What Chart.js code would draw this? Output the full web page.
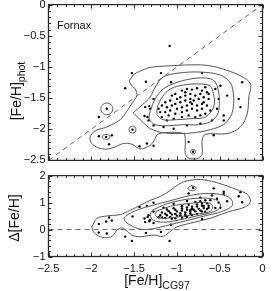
<!DOCTYPE html>
<html><head><meta charset="utf-8">
<script src="https://cdn.jsdelivr.net/npm/chart.js@4.4.1/dist/chart.umd.min.js"></script>
<style>
body{margin:0;background:#fff;}
#wrap{position:relative;width:273px;height:291px;overflow:hidden;font-family:"Liberation Sans",Arial,sans-serif;color:#111;}
canvas{position:absolute;left:0;}
.t{position:absolute;white-space:nowrap;line-height:1;}
.rot{transform:translate(-50%,-50%) rotate(-90deg);}
.sub{font-size:10.5px;position:relative;top:4px;}
</style></head><body>
<div id="wrap">
<canvas id="cTop" width="273" height="175" style="top:-5px;width:273px;height:175px"></canvas>
<canvas id="cBot" width="273" height="125" style="top:166px;width:273px;height:125px"></canvas>
<div class="t" style="left:57px;top:20px;font-size:11px">Fornax</div>
<div class="t rot" style="left:16px;top:91px;font-size:14px">[Fe/H]<span class="sub">phot</span></div>
<div class="t rot" style="left:14px;top:218px;font-size:14px">Δ[Fe/H]</div>
<div class="t" style="left:157px;top:280px;transform:translate(-50%,-50%);font-size:14px">[Fe/H]<span class="sub">CG97</span></div>
</div>
<script>
// ---------- data ----------
const feh_cg97 = [-1.019,-0.941,-0.882,-0.824,-0.765,-0.707,-0.668,-0.648,-0.726,-0.785,-0.843,-0.902,-0.960,-0.999,-1.078,-1.136,-1.175,-1.117,-1.058,-1.019,-0.960,-0.902,-0.843,-0.804,-0.746,-0.687,-0.629,-0.707,-0.765,-0.824,-0.882,-0.941,-0.999,-1.078,-1.136,-1.195,-1.214,-1.097,-1.019,-0.941,-0.882,-0.824,-0.765,-0.707,-0.648,-0.609,-0.668,-0.726,-0.785,-0.863,-0.941,-1.038,-1.117,-1.175,-0.843,-0.902,-0.687,-0.629,-1.058,
 -1.273,-1.312,-1.331,-1.273,-1.156,-1.038,-0.882,-0.726,-0.590,-0.531,-0.512,-0.551,-0.492,-0.453,
 -1.526,-1.362,-1.604,-1.186,-1.069,-0.706,-0.238,-0.278,-0.258,-0.413,-1.085,-1.370,-1.323,-1.378,-1.343,-1.819,-1.912,-1.519,-1.912,-1.760,-1.827,-1.792,-1.437,-1.350,-1.273,-0.863,-0.811,-0.570,-0.453];
const feh_phot = [-1.433,-1.380,-1.354,-1.364,-1.343,-1.380,-1.327,-1.407,-1.433,-1.460,-1.433,-1.460,-1.486,-1.513,-1.540,-1.566,-1.619,-1.646,-1.619,-1.593,-1.566,-1.540,-1.513,-1.540,-1.513,-1.486,-1.513,-1.593,-1.619,-1.593,-1.619,-1.646,-1.672,-1.699,-1.725,-1.725,-1.672,-1.778,-1.752,-1.725,-1.699,-1.672,-1.699,-1.672,-1.619,-1.699,-1.752,-1.778,-1.805,-1.778,-1.805,-1.831,-1.858,-1.805,-1.566,-1.407,-1.566,-1.433,-1.460,
 -1.513,-1.672,-1.858,-1.938,-1.964,-1.991,-1.938,-1.911,-1.858,-1.672,-1.513,-1.354,-1.301,-1.858,
 -1.099,-1.237,-1.342,-1.099,-1.247,-1.099,-1.247,-1.513,-1.645,-1.460,-0.664,-1.645,-1.629,-1.788,-1.804,-1.672,-1.804,-2.006,-2.113,-2.097,-2.123,-2.240,-2.272,-2.229,-2.266,-2.202,-2.361,-2.097,-1.779];
const delta_feh = [0.414,0.439,0.472,0.540,0.578,0.673,0.659,0.759,0.707,0.675,0.590,0.558,0.526,0.514,0.462,0.430,0.444,0.529,0.561,0.574,0.606,0.638,0.670,0.736,0.767,0.799,0.884,0.886,0.854,0.769,0.737,0.705,0.673,0.621,0.589,0.530,0.458,0.681,0.733,0.784,0.817,0.848,0.934,0.965,0.971,1.090,1.084,1.052,1.020,0.915,0.864,0.793,0.741,0.630,0.723,0.505,0.879,0.804,0.402,
 0.240,0.360,0.527,0.665,0.808,0.953,1.056,1.185,1.268,1.141,1.001,0.803,0.809,1.405,
 -0.427,-0.125,-0.262,-0.087,0.178,0.393,1.009,1.235,1.387,1.047,-0.421,0.275,0.306,0.410,0.461,-0.147,-0.108,0.487,0.201,0.337,0.296,0.448,0.835,0.879,0.993,1.339,1.550,1.527,1.326];

// density contours, top panel ([Fe/H]CG97, [Fe/H]phot)
const contourTopOuter = [[-1.557,-1.226],[-1.511,-1.131],[-1.429,-1.067],[-1.311,-1.008],[-1.077,-0.982],[-0.726,-0.967],[-0.527,-1.008],[-0.258,-1.142],[-0.141,-1.274],[-0.160,-1.486],[-0.179,-1.752],[-0.258,-1.963],[-0.413,-2.070],[-0.667,-2.081],[-0.706,-2.177],[-0.706,-2.400],[-0.765,-2.470],[-0.863,-2.462],[-0.902,-2.389],[-0.902,-2.177],[-0.922,-2.070],[-1.136,-2.054],[-1.229,-2.086],[-1.265,-2.182],[-1.311,-2.256],[-1.390,-2.309],[-1.448,-2.309],[-1.526,-2.240],[-1.624,-2.229],[-1.721,-2.282],[-1.819,-2.320],[-1.917,-2.298],[-1.994,-2.229],[-2.014,-2.123],[-1.956,-2.027],[-1.819,-1.963],[-1.663,-1.847],[-1.581,-1.704],[-1.522,-1.576],[-1.467,-1.460],[-1.487,-1.354],[-1.534,-1.290],[-1.557,-1.226]];
const contourTop3 = [[-1.511,-1.736],[-1.405,-1.608],[-1.311,-1.481],[-1.253,-1.322],[-1.159,-1.162],[-0.984,-1.099],[-0.726,-1.083],[-0.492,-1.131],[-0.375,-1.258],[-0.340,-1.433],[-0.340,-1.640],[-0.375,-1.799],[-0.457,-1.927],[-0.609,-2.006],[-0.785,-2.054],[-0.984,-2.070],[-1.171,-2.054],[-1.311,-1.990],[-1.393,-1.895],[-1.452,-1.815],[-1.511,-1.736]];
const contourTop2 = [[-1.311,-1.704],[-1.253,-1.513],[-1.159,-1.354],[-1.019,-1.258],[-0.843,-1.194],[-0.667,-1.178],[-0.562,-1.226],[-0.515,-1.385],[-0.504,-1.592],[-0.527,-1.768],[-0.609,-1.879],[-0.749,-1.927],[-0.925,-1.927],[-1.101,-1.943],[-1.253,-1.927],[-1.323,-1.831],[-1.311,-1.704]];
const contourTop1 = [[-1.229,-1.640],[-1.171,-1.481],[-1.077,-1.354],[-0.925,-1.290],[-0.749,-1.274],[-0.609,-1.306],[-0.574,-1.433],[-0.562,-1.592],[-0.609,-1.736],[-0.691,-1.815],[-0.843,-1.831],[-1.007,-1.847],[-1.159,-1.847],[-1.229,-1.768],[-1.229,-1.640]];
const contourTopIsleA = [[-1.819,-1.576],[-1.770,-1.604],[-1.749,-1.672],[-1.770,-1.740],[-1.819,-1.768],[-1.868,-1.740],[-1.889,-1.672],[-1.868,-1.604],[-1.819,-1.576]];
const contourTopIsleB = [[-1.519,-1.950],[-1.490,-1.966],[-1.478,-2.006],[-1.490,-2.046],[-1.519,-2.062],[-1.548,-2.046],[-1.560,-2.006],[-1.548,-1.966],[-1.519,-1.950]];
const contourTopIsleC = [[-1.827,-2.083],[-1.794,-2.095],[-1.780,-2.123],[-1.794,-2.151],[-1.827,-2.163],[-1.860,-2.151],[-1.874,-2.123],[-1.860,-2.095],[-1.827,-2.083]];
const contourTopIsleD = [[-0.811,-2.321],[-0.790,-2.333],[-0.782,-2.361],[-0.790,-2.389],[-0.811,-2.401],[-0.832,-2.389],[-0.840,-2.361],[-0.832,-2.333],[-0.811,-2.321]];

// density contours, bottom panel ([Fe/H]CG97, Δ[Fe/H])
const contourBotOuter = [[-1.994,0.099],[-1.936,0.408],[-1.819,0.504],[-1.663,0.555],[-1.546,0.713],[-1.429,0.897],[-1.311,1.081],[-1.194,1.228],[-1.077,1.449],[-0.984,1.669],[-0.890,1.798],[-0.726,1.853],[-0.539,1.743],[-0.304,1.485],[-0.176,1.301],[-0.141,1.044],[-0.199,0.842],[-0.398,0.658],[-0.609,0.419],[-0.843,0.235],[-1.007,0.088],[-1.101,-0.132],[-1.171,-0.261],[-1.253,-0.206],[-1.335,-0.224],[-1.429,-0.268],[-1.526,-0.206],[-1.581,-0.059],[-1.643,0.063],[-1.701,-0.022],[-1.741,-0.206],[-1.819,-0.305],[-1.917,-0.232],[-1.975,-0.085],[-1.994,0.099]];
const contourBot2 = [[-1.569,0.566],[-1.487,0.695],[-1.370,0.824],[-1.194,0.971],[-1.019,1.118],[-0.843,1.265],[-0.667,1.338],[-0.492,1.301],[-0.375,1.154],[-0.351,0.897],[-0.468,0.676],[-0.667,0.511],[-0.867,0.346],[-1.054,0.199],[-1.194,0.088],[-1.311,0.015],[-1.429,0.015],[-1.522,0.125],[-1.593,0.272],[-1.616,0.419],[-1.569,0.566]];
const contourBot3 = [[-1.288,0.713],[-1.136,0.934],[-0.960,1.081],[-0.785,1.154],[-0.609,1.154],[-0.515,1.044],[-0.492,0.824],[-0.585,0.640],[-0.785,0.493],[-0.984,0.346],[-1.159,0.272],[-1.276,0.346],[-1.311,0.529],[-1.288,0.713]];
const contourBot4 = [[-1.241,0.676],[-1.077,0.860],[-0.843,0.971],[-0.667,1.007],[-0.585,0.897],[-0.609,0.676],[-0.785,0.566],[-1.019,0.456],[-1.194,0.419],[-1.253,0.529],[-1.241,0.676]];
const contourBotIsle = [[-0.823,1.625],[-0.790,1.598],[-0.776,1.533],[-0.790,1.468],[-0.823,1.441],[-0.856,1.468],[-0.870,1.533],[-0.856,1.598],[-0.823,1.625]];

// reference lines and axis ranges / ticks
const identityX = [-2.5, 0];
const identityY = [-2.5, 0];
const zeroX = [-2.5, 0];
const zeroY = [0, 0];
const xRange = [-2.5, 0];
const yTopRange = [-2.5, 0];
const yBotRange = [-1, 2];

// ---------- rendering ----------
Chart.defaults.font.family = "'Liberation Sans', Arial, sans-serif";
Chart.defaults.font.size = 11;
Chart.defaults.color = '#111';

const fmt = v => (v < 0 ? '\u2212' + String(Math.abs(+v.toFixed(2))) : String(+v.toFixed(2)));
const toXY = arr => arr.map(p => ({x: p[0], y: p[1]}));
const contourDs = arr => ({type:'scatter', data: toXY(arr), showLine:true, pointRadius:0, borderColor:'#555', borderWidth:1, tension:0.35, fill:false});
const dashedDs = (xs, ys) => ({type:'scatter', data: xs.map((x,i)=>({x, y: ys[i]})), showLine:true, pointRadius:0, borderColor:'#666', borderWidth:1, borderDash:[5,4], tension:0});
const pointsDs = (xs, ys) => ({type:'scatter', data: xs.map((x,i)=>({x, y: ys[i]})), pointRadius:1.2, pointBackgroundColor:'#000', pointBorderWidth:0, showLine:false});

function steps(min, max, step){ const out=[]; const n=Math.round((max-min)/step); for(let i=0;i<=n;i++) out.push(min+i*step); return out; }
const frameTicks = {
  id:'frameTicks',
  afterDraw(chart, args, o){
    const {ctx, chartArea:a} = chart;
    const xs = chart.scales.x, ys = chart.scales.y;
    ctx.save();
    ctx.strokeStyle = '#333'; ctx.lineWidth = 1;
    ctx.beginPath();
    steps(xs.min, xs.max, o.xStep).forEach(v => {
      const r = v / o.xMajor, major = Math.abs(r - Math.round(r)) < 1e-6;
      const L = major ? 4 : 2.5, px = Math.round(xs.getPixelForValue(v)) + 0.5;
      ctx.moveTo(px, a.bottom); ctx.lineTo(px, a.bottom - L);
      ctx.moveTo(px, a.top); ctx.lineTo(px, a.top + L);
    });
    steps(ys.min, ys.max, o.yStep).forEach(v => {
      const r = v / o.yMajor, major = Math.abs(r - Math.round(r)) < 1e-6;
      const L = major ? 4 : 2.5, py = Math.round(ys.getPixelForValue(v)) + 0.5;
      ctx.moveTo(a.left, py); ctx.lineTo(a.left + L, py);
      ctx.moveTo(a.right, py); ctx.lineTo(a.right - L, py);
    });
    ctx.stroke();
    ctx.lineWidth = 1.3; ctx.strokeStyle = '#2a2a2a';
    ctx.strokeRect(a.left, a.top, a.right - a.left, a.bottom - a.top);
    ctx.restore();
  }
};

function baseOpts(yr, yStep, xHeight, showX){
  return {
    responsive:false, animation:false, devicePixelRatio:1,
    layout:{padding:{top:0, right:10.5, bottom:0, left:0}},
    plugins:{legend:{display:false}, tooltip:{enabled:false},
      frameTicks:{xStep:0.1, xMajor:0.5, yStep: yStep, yMajor: yr[1]-yr[0] > 2.6 ? 1 : 0.5}},
    scales:{
      x:{type:'linear', min:xRange[0], max:xRange[1], grid:{display:false, drawTicks:false}, border:{display:false},
         ticks:{display:showX, stepSize:0.5, padding:6, callback:fmt, maxRotation:0, autoSkip:false},
         afterFit: s => { s.height = xHeight; }},
      y:{type:'linear', min:yr[0], max:yr[1], grid:{display:false, drawTicks:false}, border:{display:false},
         ticks:{stepSize: yr[1]-yr[0] > 2.6 ? 1 : 0.5, padding:3, callback:fmt, autoSkip:false},
         afterFit: s => { s.width = 48.5; }}
    }
  };
}

new Chart(document.getElementById('cTop'), {
  type:'scatter',
  data:{datasets:[
    dashedDs(identityX, identityY),
    contourDs(contourTopOuter), contourDs(contourTop3), contourDs(contourTop2), contourDs(contourTop1),
    contourDs(contourTopIsleA), contourDs(contourTopIsleB), contourDs(contourTopIsleC), contourDs(contourTopIsleD),
    pointsDs(feh_cg97, feh_phot)
  ]},
  options: baseOpts(yTopRange, 0.1, 6.5, false),
  plugins:[frameTicks]
});

new Chart(document.getElementById('cBot'), {
  type:'scatter',
  data:{datasets:[
    dashedDs(zeroX, zeroY),
    contourDs(contourBotOuter), contourDs(contourBot2), contourDs(contourBot3), contourDs(contourBot4),
    contourDs(contourBotIsle),
    pointsDs(feh_cg97, delta_feh)
  ]},
  options: baseOpts(yBotRange, 0.2, 34.5, true),
  plugins:[frameTicks]
});
</script>
</body></html>
